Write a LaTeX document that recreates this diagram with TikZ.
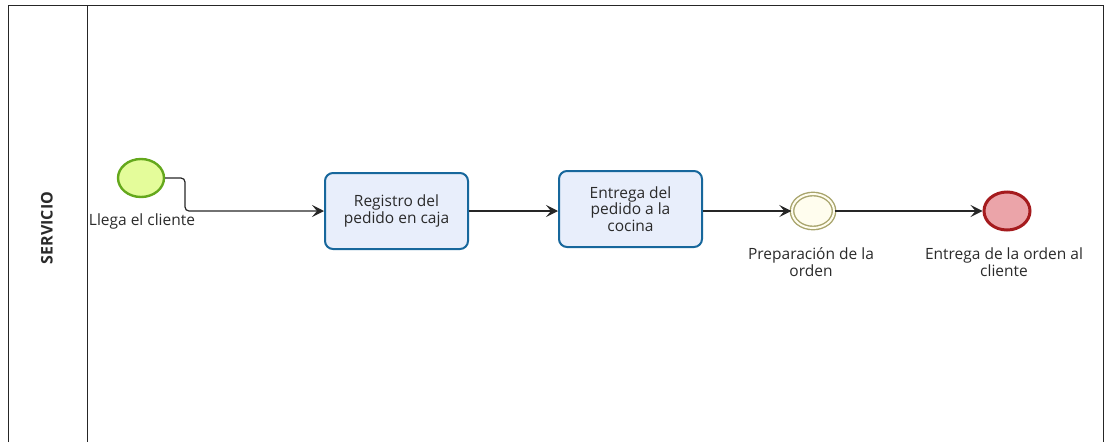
\documentclass[tikz,border=0pt]{standalone}
\usepackage{fontspec}
\setmainfont{Open Sans}
\usetikzlibrary{shapes.geometric,arrows.meta}
\definecolor{startfill}{HTML}{E4FC9A}
\definecolor{startdraw}{HTML}{64A81C}
\definecolor{taskfill}{HTML}{E8EEFB}
\definecolor{taskdraw}{HTML}{17679C}
\definecolor{midfill}{HTML}{FFFDEE}
\definecolor{middraw}{HTML}{A8A46C}
\definecolor{endfill}{HTML}{EBA4A9}
\definecolor{enddraw}{HTML}{A51B1E}
\definecolor{txt}{HTML}{2A2A2A}
\tikzset{
  lane/.style={draw=black!85, line width=1pt},
  ev/.style={ellipse, minimum width=46pt, minimum height=38pt, inner sep=0pt},
  startev/.style={ev, fill=startfill, draw=startdraw, line width=2.4pt},
  midev/.style={ev, fill=midfill, draw=middraw, line width=1.4pt, double=midfill, double distance=2pt, minimum width=42pt, minimum height=34pt},
  endev/.style={ev, fill=endfill, draw=enddraw, line width=3pt},
  task/.style={draw=taskdraw, fill=taskfill, line width=2pt, rounded corners=8pt, minimum width=143pt, minimum height=76pt, align=center, font=\fontsize{15.5}{16.5}\selectfont, text=txt},
  lbl/.style={align=center, font=\fontsize{15.5}{16.5}\selectfont, text=txt, inner sep=0pt},
  flow/.style={draw=black!85, line width=1.2pt, -{Stealth[length=12pt,width=12pt,inset=5pt]}}
}
\begin{document}
\begin{tikzpicture}[x=1pt,y=-1pt]
\useasboundingbox (0,0) rectangle (1110,442);
% pool / lane
\draw[lane] (8,442) -- (8,5) -- (1103,5) -- (1103,442);
\draw[lane] (87,5) -- (87,442);
\node[rotate=90, font=\fontsize{16}{18}\selectfont\bfseries, text=txt] (lanelabel) at (47,228) {SERVICIO};
% nodes
\node[startev] (start) at (141,178) {};
\node[lbl] (startlbl) at (142,221) {Llega el cliente};
\node[task] (t1) at (396.5,211) {Registro del\\pedido en caja};
\node[task] (t2) at (630.5,209) {Entrega del\\pedido a la\\cocina};
\node[midev] (mid) at (813,211) {};
\node[lbl] (midlbl) at (811,262) {Preparación de la\\orden};
\node[endev] (end) at (1007,211) {};
\node[lbl] (endlbl) at (1004,262) {Entrega de la orden al\\cliente};
% flows
\coordinate (bend) at (185,178);
\draw[flow, rounded corners=4pt] (start.east) -- (bend) |- (t1.west);
\draw[flow] (t1.east) -- (t2.west |- t1.east);
\draw[flow] (t2.east |- t1.east) -- (mid.west);
\draw[flow] (mid.east) -- (end.west);
\end{tikzpicture}
\end{document}
